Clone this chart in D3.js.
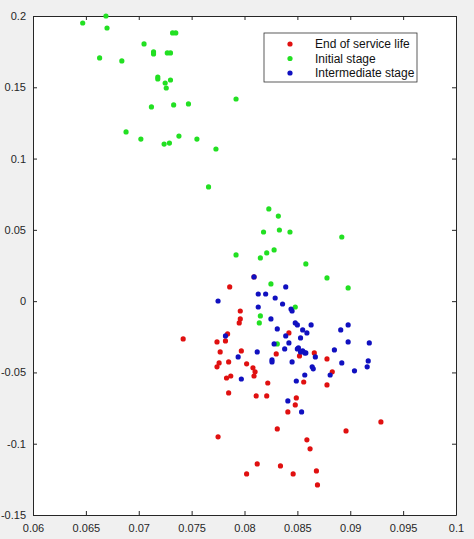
<!DOCTYPE html>
<html>
<head>
<meta charset="utf-8">
<script src="https://cdn.jsdelivr.net/npm/d3@7"></script>
<style>
  body { margin: 0; background: #f0f0f0; }
  text { font-family: "Liberation Sans", Arial, sans-serif; }
</style>
</head>
<body>
<div id="container"></div>
<script>
// données : [x, y]
const endOfLife = [
  [.0809, .0170], [.0786, .0100], [.0796, -.0069], [.0796, -.0125], [.0795, -.0153],
  [.0784, -.0230], [.0842, -.0223], [.0774, -.0286], [.0782, -.0279], [.0777, -.0356],
  [.0797, -.0349], [.0830, -.0370], [.0852, -.0384], [.0866, -.0363], [.0878, -.0405],
  [.0742, -.0265], [.0774, -.0461], [.0776, -.0433], [.0785, -.0426], [.0802, -.0440],
  [.0808, -.0468], [.0810, -.0496], [.0809, -.0525], [.0783, -.0539], [.0787, -.0525],
  [.0822, -.0574], [.0856, -.0567], [.0883, -.0496], [.0878, -.0588], [.0785, -.0644],
  [.0811, -.0665], [.0821, -.0665], [.0849, -.0679], [.0848, -.0728], [.0841, -.0777],
  [.0831, -.0896], [.0775, -.0952], [.0896, -.0910], [.0929, -.0847], [.0859, -.0973],
  [.0862, -.1036], [.0812, -.1142], [.0802, -.1212], [.0834, -.1156], [.0846, -.1212],
  [.0868, -.1191], [.0869, -.1289]
]
const initialStage = [
  [.0647, .1951], [.0669, .2000], [.0670, .1916], [.0705, .1804], [.0663, .1706],
  [.0684, .1685], [.0714, .1748], [.0714, .1734], [.0727, .1741], [.0730, .1741],
  [.0732, .1881], [.0735, .1881], [.0718, .1572], [.0718, .1558], [.0725, .1530],
  [.0726, .1495], [.0730, .1551], [.0712, .1362], [.0733, .1376], [.0747, .1383],
  [.0792, .1418], [.0688, .1187], [.0702, .1137], [.0724, .1102], [.0729, .1109],
  [.0738, .1158], [.0755, .1137], [.0773, .1067], [.0766, .0801], [.0823, .0647],
  [.0832, .0597], [.0818, .0485], [.0833, .0499], [.0843, .0485], [.0892, .0450],
  [.0792, .0324], [.0815, .0303], [.0821, .0338], [.0828, .0359], [.0858, .0261],
  [.0878, .0163], [.0898, .0093], [.0825, .0121], [.0848, -.0041], [.0815, -.0104],
  [.0814, -.0153], [.0831, -.0300]
]
const intermediateStage = [
  [.0809, .0170], [.0839, .0100], [.0813, .0050], [.0820, .0050], [.0775, .0001],
  [.0829, .0022], [.0813, -.0041], [.0836, -.0020], [.0844, -.0055], [.0845, -.0069],
  [.0825, -.0125], [.0848, -.0153], [.0850, -.0167], [.0863, -.0167], [.0855, -.0202],
  [.0859, -.0223], [.0891, -.0202], [.0898, -.0167], [.0831, -.0195], [.0839, -.0244],
  [.0782, -.0244], [.0853, -.0258], [.0842, -.0293], [.0828, -.0300], [.0898, -.0286],
  [.0918, -.0293], [.0838, -.0335], [.0851, -.0328], [.0855, -.0349], [.0857, -.0363],
  [.0812, -.0356], [.0794, -.0391], [.0885, -.0342], [.0826, -.0412], [.0826, -.0426],
  [.0850, -.0335], [.0853, -.0356], [.0858, -.0363], [.0867, -.0391], [.0845, -.0426],
  [.0864, -.0461], [.0865, -.0475], [.0857, -.0518], [.0849, -.0560], [.0797, -.0546],
  [.0881, -.0518], [.0892, -.0433], [.0904, -.0489], [.0917, -.0419], [.0916, -.0461],
  [.0841, -.0700], [.0854, -.0777]
]
const seriesNames = ['End of service life', 'Initial stage', 'Intermediate stage']
const seriesColors = ['#e01010', '#22e022', '#1010c0']
const xTicks = [0.06, 0.065, 0.07, 0.075, 0.08, 0.085, 0.09, 0.095, 0.1]
const yTicks = [-0.15, -0.1, -0.05, 0, 0.05, 0.1, 0.15, 0.2]

const W = 474, H = 539
const margin = { left: 33, right: 456, top: 16, bottom: 515 }

const svg = d3.select('#container').append('svg')
  .attr('width', W)
  .attr('height', H)
  .style('display', 'block')

svg.append('rect')
  .attr('x', margin.left).attr('y', margin.top)
  .attr('width', margin.right - margin.left).attr('height', margin.bottom - margin.top)
  .attr('fill', '#fff')

const x = d3.scaleLinear().domain([0.06, 0.1]).range([margin.left, margin.right])
const y = d3.scaleLinear().domain([-0.15, 0.2]).range([margin.bottom, margin.top])

const fmt = d => d === 0 ? '0' : String(+d.toFixed(3))

// axes (ticks à l'intérieur, boîte fermée)
const axisStyle = g => {
  g.select('.domain').attr('stroke', '#262626')
  g.selectAll('.tick line').attr('stroke', '#262626')
  g.selectAll('.tick text').attr('fill', '#262626').attr('font-size', 11)
}
svg.append('g').attr('transform', `translate(0,${margin.bottom})`)
  .call(d3.axisBottom(x).tickValues(xTicks).tickFormat(fmt).tickSizeInner(-4).tickSizeOuter(0).tickPadding(9))
  .call(axisStyle)
svg.append('g').attr('transform', `translate(${margin.left},0)`)
  .call(d3.axisLeft(y).tickValues(yTicks).tickFormat(fmt).tickSizeInner(-4).tickSizeOuter(0).tickPadding(7))
  .call(axisStyle)
svg.append('g').attr('transform', `translate(0,${margin.top})`)
  .call(d3.axisTop(x).tickValues(xTicks).tickFormat('').tickSizeInner(-4).tickSizeOuter(0))
  .call(axisStyle)
svg.append('g').attr('transform', `translate(${margin.right},0)`)
  .call(d3.axisRight(y).tickValues(yTicks).tickFormat('').tickSizeInner(-4).tickSizeOuter(0))
  .call(axisStyle)

// points
const allSeries = [endOfLife, initialStage, intermediateStage]
allSeries.forEach((s, i) => {
  svg.append('g').selectAll('circle')
    .data(s)
    .enter().append('circle')
    .attr('cx', d => x(d[0]))
    .attr('cy', d => y(d[1]))
    .attr('r', 2.6)
    .attr('fill', seriesColors[i])
})

// légende
const legend = svg.append('g')
legend.append('rect')
  .attr('x', 264).attr('y', 33)
  .attr('width', 153).attr('height', 49)
  .attr('fill', '#fff').attr('stroke', '#333').attr('stroke-width', 0.8)
seriesNames.forEach((n, i) => {
  legend.append('circle')
    .attr('cx', 290).attr('cy', 44 + i * 14.5)
    .attr('r', 2.6).attr('fill', seriesColors[i])
  legend.append('text')
    .attr('x', 315).attr('y', 48 + i * 14.5)
    .attr('font-size', 12).attr('fill', '#111')
    .text(n)
})
</script>
</body>
</html>
